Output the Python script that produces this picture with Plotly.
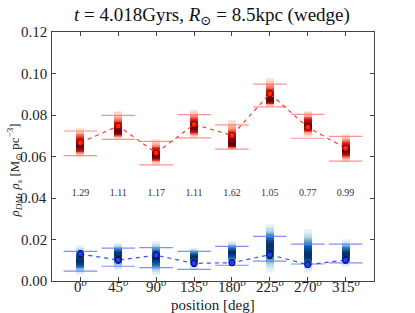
import plotly.graph_objects as go
from plotly.colors import sample_colorscale
import numpy as np

angles = [0, 45, 90, 135, 180, 225, 270, 315]
tick_text = ["0<sup><i>o</i></sup>", "45<sup><i>o</i></sup>", "90<sup><i>o</i></sup>", "135<sup><i>o</i></sup>",
             "180<sup><i>o</i></sup>", "225<sup><i>o</i></sup>", "270<sup><i>o</i></sup>", "315<sup><i>o</i></sup>"]
y_ticks = [0.0, 0.02, 0.04, 0.06, 0.08, 0.10, 0.12]
y_tick_text = ["0.00", "0.02", "0.04", "0.06", "0.08", "0.10", "0.12"]

# red series (rho_DM)
red_val = [0.0667, 0.0747, 0.0617, 0.0755, 0.0702, 0.0903, 0.0741, 0.0640]
red_cap_hi = [0.0723, 0.0798, 0.0673, 0.0802, 0.0752, 0.0949, 0.0803, 0.0697]
red_cap_lo = [0.0604, 0.0683, 0.0560, 0.0690, 0.0636, 0.0839, 0.0688, 0.0578]
red_col_hi = [0.0737, 0.0816, 0.0680, 0.0824, 0.0776, 0.0978, 0.0816, 0.0704]
red_col_lo = [0.0598, 0.0684, 0.0560, 0.0690, 0.0630, 0.0839, 0.0696, 0.0574]
red_col_peak = [0.0650, 0.0720, 0.0605, 0.0740, 0.0660, 0.0870, 0.0750, 0.0630]

# blue series (rho_s)
blue_val = [0.0130, 0.0101, 0.0124, 0.0085, 0.0088, 0.0127, 0.0079, 0.0101]
blue_cap_hi = [0.0143, 0.0158, 0.0161, 0.0143, 0.0167, 0.0215, 0.0178, 0.0178]
blue_cap_lo = [0.0048, 0.0071, 0.0064, 0.0056, 0.0076, 0.0096, 0.0082, 0.0087]
blue_col_hi = [0.0170, 0.0182, 0.0189, 0.0158, 0.0189, 0.0270, 0.0246, 0.0198]
blue_col_lo = [0.0029, 0.0053, 0.0029, 0.0053, 0.0069, 0.0045, 0.0045, 0.0069]
blue_col_peak = [0.0100, 0.0130, 0.0115, 0.0120, 0.0140, 0.0170, 0.0125, 0.0130]
blue_err = [0.0016, 0.0015, 0.0016, 0.0014, 0.0013, 0.0018, 0.0012, 0.0015]

ratio_labels = ["1.29", "1.11", "1.17", "1.11", "1.62", "1.05", "0.77", "0.99"]
ratio_y = 0.042

FONT = "Liberation Serif, DejaVu Serif, serif"


def column_bars(lo, hi, peak, scale, name):
    xs, bases, hs, cols = [], [], [], []
    step = 0.0004
    for a, l, h, p in zip(angles, lo, hi, peak):
        sl = max((p - l) / 2.0, 1e-4)
        su = max((h - p) / 2.0, 1e-4)
        y = l
        while y < h:
            yc = y + step / 2
            s = sl if yc < p else su
            t = float(np.exp(-0.5 * ((yc - p) / s) ** 2))
            c = sample_colorscale(scale, [0.15 + 0.85 * t])[0]
            c = c.replace("rgb(", "rgba(").replace(")", ",%.3f)" % min(1.0, 0.15 + t * 1.3))
            xs.append(a)
            bases.append(y)
            hs.append(step * 1.02)
            cols.append(c)
            y += step
    return go.Bar(x=xs, y=hs, base=bases, width=9.5, marker=dict(color=cols, line=dict(width=0)),
                  showlegend=False, hoverinfo="skip", name=name)


fig = go.Figure()
fig.add_trace(column_bars(red_col_lo, red_col_hi, red_col_peak, "Reds", "red col"))
fig.add_trace(column_bars(blue_col_lo, blue_col_hi, blue_col_peak, "Blues", "blue col"))

# caps
fig.add_trace(go.Scatter(x=angles * 2, y=red_cap_hi + red_cap_lo, mode="markers",
                         marker=dict(symbol="line-ew", size=24, line=dict(color="rgba(255,110,110,0.75)", width=1.2)),
                         showlegend=False, hoverinfo="skip"))
fig.add_trace(go.Scatter(x=angles * 2, y=blue_cap_hi + blue_cap_lo, mode="markers",
                         marker=dict(symbol="line-ew", size=24, line=dict(color="rgba(110,120,255,0.85)", width=1.2)),
                         showlegend=False, hoverinfo="skip"))

# lines + markers
fig.add_trace(go.Scatter(x=angles, y=red_val, mode="lines+markers",
                         line=dict(color="#ff3b3b", width=1.2, dash="4px,4px"),
                         marker=dict(symbol="circle", size=6, color="#ff2a00", line=dict(color="#7a0000", width=1)),
                         error_y=dict(type="data", array=[0.0010] * 8, color="#3a0000", thickness=1, width=2),
                         showlegend=False))
fig.add_trace(go.Scatter(x=angles, y=blue_val, mode="lines+markers",
                         line=dict(color="#2f4fff", width=1.2, dash="4px,4px"),
                         marker=dict(symbol="circle", size=6, color="#1f3cff", line=dict(color="#000066", width=1)),
                         error_y=dict(type="data", array=blue_err, color="#111111", thickness=1, width=2),
                         showlegend=False))

# ratio labels
fig.add_trace(go.Scatter(x=angles, y=[ratio_y] * 8, mode="text", text=ratio_labels,
                         textfont=dict(family=FONT, size=10, color="#333333"),
                         showlegend=False, hoverinfo="skip"))

axis_common = dict(showgrid=False, zeroline=False, showline=True, linecolor="#444444", linewidth=1,
                   mirror="ticks", ticks="inside", ticklen=4, tickcolor="#444444", automargin=False,
                   showticklabels=False)

x_tick_annots = [dict(text=t, x=a, y=0, xref="x", yref="paper", xanchor="center", yanchor="top", yshift=6,
                      showarrow=False, font=dict(family=FONT, size=15, color="#222222"))
                 for a, t in zip(angles, tick_text)]
y_tick_annots = [dict(text=t, x=0, y=v, xref="paper", yref="y", xanchor="right", yanchor="middle", xshift=-3,
                      showarrow=False, font=dict(family=FONT, size=15, color="#222222"))
                 for v, t in zip(y_ticks, y_tick_text)]

fig.update_layout(
    width=415, height=313,
    margin=dict(l=52, r=41, t=32, b=32),
    paper_bgcolor="white", plot_bgcolor="white",
    barmode="overlay", bargap=0,
    font=dict(family=FONT),
    xaxis=dict(range=[-33.75, 348.75], tickvals=angles, **axis_common),
    yaxis=dict(range=[0, 0.12], tickvals=y_ticks, **axis_common),
    annotations=x_tick_annots + y_tick_annots + [
        dict(text="<i>t</i> = 4.018Gyrs, <i>R</i><sub>⊙</sub> = 8.5kpc (wedge)", xref="paper", yref="paper",
             x=(212 - 52) / 322, y=1 + (32 - 16) / 249, xanchor="center", yanchor="middle", showarrow=False,
             font=dict(family=FONT, size=19, color="#111111")),
        dict(text="position [deg]", xref="paper", yref="paper", x=0.5, y=-24 / 249, xanchor="center",
             yanchor="middle", showarrow=False, font=dict(family=FONT, size=15, color="#222222")),
        dict(text="<i>ρ<sub>DM</sub></i>, <i>ρ<sub>s</sub></i> [M<sub>⊙</sub> pc<sup>−3</sup>]", xref="paper", yref="paper",
             x=(14 - 52) / 322, y=0.5 - 14 / 249, xanchor="center", yanchor="middle", textangle=-90, showarrow=False,
             font=dict(family=FONT, size=13, color="#222222")),
    ],
)

fig.write_html("out.html", config={"displayModeBar": False},
               post_script="document.body.style.margin='0';document.body.style.overflow='hidden';")
